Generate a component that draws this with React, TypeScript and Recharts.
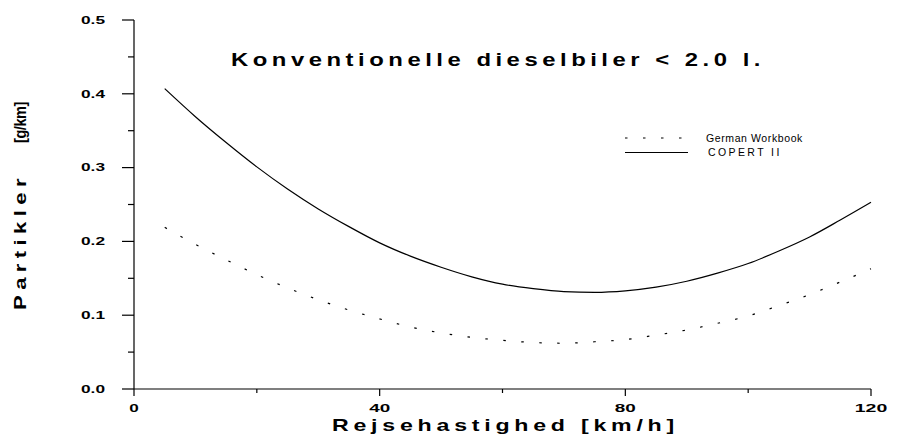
import React from 'react';
import { LineChart, Line, XAxis, YAxis, Legend, Customized } from 'recharts';

// Travel speed (km/h) at which the emission factors are given
const speeds = [5, 10, 15, 20, 25, 30, 35, 40, 45, 50, 55, 60, 65, 70, 75, 80, 85, 90, 95, 100, 105, 110, 115, 120];

// Particle emission factors, g/km
const copertII = [0.407, 0.369, 0.334, 0.301, 0.271, 0.244, 0.22, 0.198, 0.18, 0.165, 0.152, 0.142, 0.136, 0.132, 0.131, 0.133, 0.138, 0.146, 0.157, 0.17, 0.187, 0.206, 0.229, 0.253];
const germanWorkbook = [0.219, 0.196, 0.175, 0.155, 0.137, 0.121, 0.107, 0.095, 0.084, 0.076, 0.07, 0.066, 0.063, 0.062, 0.064, 0.067, 0.073, 0.08, 0.089, 0.099, 0.113, 0.128, 0.145, 0.163];

const xTicks = [0, 20, 40, 60, 80, 100, 120];
const xLabelled = [0, 40, 80, 120];
const yTicks = [0, 0.05, 0.1, 0.15, 0.2, 0.25, 0.3, 0.35, 0.4, 0.45, 0.5];
const yLabelled = [0, 0.1, 0.2, 0.3, 0.4, 0.5];

const title = 'Konventionelle dieselbiler < 2.0 l.';
const xTitle = 'Rejsehastighed [km/h]';
const yTitleWord = 'Partikler';
const yTitleUnit = '[g/km]';

const seriesNames = { german: 'German Workbook', copert: 'COPERT II' };

const rows = speeds.map((s, i) => ({ speed: s, copert: copertII[i], german: germanWorkbook[i] }));

const FONT = '"Liberation Sans", Arial, Helvetica, sans-serif';
const INK = '#000';
const DOT_DASH = '2.5 15.5';

const near = (a: number, b: number) => Math.abs(a - b) < 1e-6;

function XTick(props: any) {
  const { x, y, payload } = props;
  const v = payload.value as number;
  const major = xLabelled.some((m) => near(m, v));
  const label = String(v);
  return (
    <g>
      <line x1={x} x2={x} y1={y} y2={y + (major ? 7 : 4)} stroke={INK} strokeWidth={1.2} />
      {major && (
        <text
          x={x}
          y={y + 23}
          textAnchor="middle"
          fontFamily={FONT}
          fontWeight="bold"
          fontSize={10.5}
          fill={INK}
          textLength={label.length * 11.5 - 2}
          lengthAdjust="spacingAndGlyphs"
        >
          {label}
        </text>
      )}
    </g>
  );
}

function YTick(props: any) {
  const { x, y, payload } = props;
  const v = payload.value as number;
  const major = yLabelled.some((m) => near(m, v));
  const label = v.toFixed(1);
  return (
    <g>
      <line x1={x - (major ? 12 : 6)} x2={x} y1={y} y2={y} stroke={INK} strokeWidth={1.2} />
      {major && (
        <text
          x={x - 29}
          y={y + 3.8}
          textAnchor="end"
          fontFamily={FONT}
          fontWeight="bold"
          fontSize={10.5}
          fill={INK}
          textLength={24}
          lengthAdjust="spacingAndGlyphs"
        >
          {label}
        </text>
      )}
    </g>
  );
}

function LegendBox() {
  const items = [
    { name: seriesNames.german, dash: '2.5 15.5', spacing: 0.6 },
    { name: seriesNames.copert, dash: undefined as string | undefined, spacing: 2.4 },
  ];
  return (
    <svg width={200} height={34} style={{ display: 'block' }}>
      {items.map((it, i) => (
        <g key={it.name}>
          <line x1={0} x2={63} y1={6 + i * 14.5} y2={6 + i * 14.5} stroke={INK} strokeWidth={1.2} strokeDasharray={it.dash} />
          <text x={81 + i * 2} y={9.8 + i * 14.5} fontFamily={FONT} fontSize={10.5} fill={INK} letterSpacing={it.spacing}>
            {it.name}
          </text>
        </g>
      ))}
    </svg>
  );
}

function Titles() {
  const cy = 204.5;
  return (
    <g>
      <text
        x={231}
        y={66}
        fontFamily={FONT}
        fontWeight="bold"
        fontSize={18.5}
        fill={INK}
        letterSpacing={3.5}
        textLength={534}
        lengthAdjust="spacingAndGlyphs"
      >
        {title}
      </text>
      <text
        x={332}
        y={431}
        fontFamily={FONT}
        fontWeight="bold"
        fontSize={17}
        fill={INK}
        letterSpacing={3.5}
        textLength={347}
        lengthAdjust="spacingAndGlyphs"
      >
        {xTitle}
      </text>
      <g transform={`translate(26, ${cy}) rotate(-90)`}>
        <text
          x={-105.5}
          y={0}
          fontFamily={FONT}
          fontWeight="bold"
          fontSize={16.5}
          fill={INK}
          letterSpacing={4}
          textLength={137}
          lengthAdjust="spacingAndGlyphs"
        >
          {yTitleWord}
        </text>
        <text
          x={61.5}
          y={0}
          fontFamily={FONT}
          fontWeight="bold"
          fontSize={17}
          fill={INK}
          letterSpacing={-0.5}
          textLength={41}
          lengthAdjust="spacingAndGlyphs"
        >
          {yTitleUnit}
        </text>
      </g>
    </g>
  );
}

export default function App() {
  return (
    <div style={{ position: 'absolute', left: 0, top: 0, width: 897, height: 437, background: '#fff' }}>
      <LineChart width={897} height={437} data={rows} margin={{ top: 20, right: 26, bottom: 0, left: 0 }}>
        <XAxis
          dataKey="speed"
          type="number"
          domain={[0, 120]}
          ticks={xTicks}
          interval={0}
          height={48}
          tickSize={0}
          tickMargin={0}
          tickLine={false}
          axisLine={{ stroke: INK, strokeWidth: 1.2 }}
          tick={<XTick />}
        />
        <YAxis
          type="number"
          domain={[0, 0.5]}
          ticks={yTicks}
          interval={0}
          width={134}
          tickSize={0}
          tickMargin={0}
          tickLine={false}
          axisLine={{ stroke: INK, strokeWidth: 1.2 }}
          tick={<YTick />}
        />
        <Line
          dataKey="german"
          name={seriesNames.german}
          type="monotone"
          stroke={INK}
          strokeWidth={1.2}
          strokeDasharray={DOT_DASH}
          dot={false}
          activeDot={false}
          isAnimationActive={false}
        />
        <Line
          dataKey="copert"
          name={seriesNames.copert}
          type="monotone"
          stroke={INK}
          strokeWidth={1.2}
          dot={false}
          activeDot={false}
          isAnimationActive={false}
        />
        <Legend
          layout="vertical"
          align="center"
          verticalAlign="middle"
          content={() => <LegendBox />}
          wrapperStyle={{ position: 'absolute', left: 625, top: 132, width: 200, margin: 0 }}
        />
        <Customized component={Titles} />
      </LineChart>
    </div>
  );
}
